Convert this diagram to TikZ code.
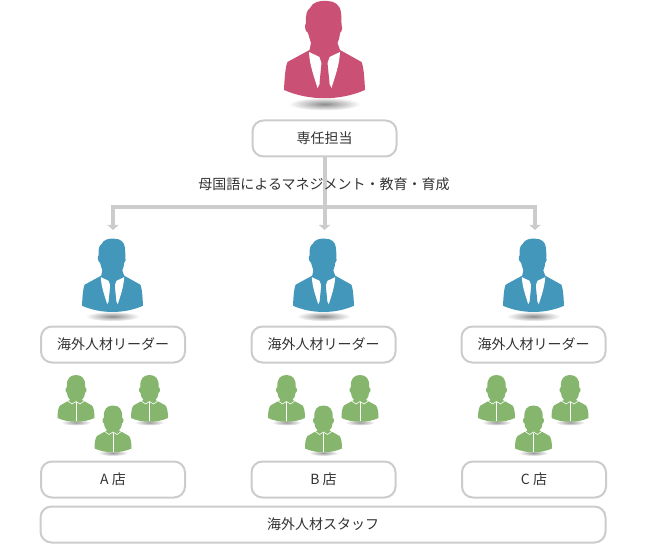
\documentclass[tikz,border=0pt]{standalone}
\usepackage{fontspec}
\setmainfont{Noto Sans CJK JP}
\usetikzlibrary{arrows.meta,calc}
\definecolor{mgrred}{HTML}{CB5076}
\definecolor{leadblue}{HTML}{4297BB}
\definecolor{staffgreen}{HTML}{86B66D}
\definecolor{linegray}{HTML}{CCCCCC}
\definecolor{textgray}{HTML}{333333}

\begin{document}
\begin{tikzpicture}[
    x=1pt, y=-1pt,
    label/.style={font=\fontsize{14}{16}\selectfont, text=textgray},
    bigbox/.style={draw=linegray, line width=2pt, rounded corners=11pt, fill=white,
        minimum height=36pt, inner sep=0pt, label},
    mgrbox/.style={bigbox, minimum width=144pt},
    wide/.style={bigbox, minimum width=565pt},
    link/.style={draw=linegray, line width=4pt},
    drop/.style={link, -{Triangle[length=5pt, width=11pt]}},
    pics/suitman/.style={code={
        % shadow, body with head, shirt, tie
        \shade[inner color=black!45, outer color=white] (0,104) ellipse [x radius=36, y radius=6.5];
        \fill[#1] (-15,50) -- (-13.5,43) .. controls (-15,38) and (-16,35) .. (-16.5,33)
            .. controls (-20,31) and (-20,25) .. (-18.5,23) .. controls (-19,16) and (-18,10) .. (-14.5,8)
            .. controls (-12,2) and (-4,0) .. (3,1) .. controls (10,1) and (16,5) .. (16.5,13)
            .. controls (17,17) and (17,21) .. (17,25) .. controls (18.5,28) and (17,32) .. (15.5,33)
            .. controls (15,38) and (14,41) .. (13,43) -- (15.5,50)
            -- (37,62) .. controls (39,66) and (40,78) .. (40.5,90)
            .. controls (15,101) and (-15,101) .. (-40.5,90)
            .. controls (-40,78) and (-39,66) .. (-37,62) -- cycle;
        \fill[white] (-15.5,52) -- (-5,57) -- (5,57) -- (15.5,52) .. controls (15,65) and (10,78) .. (7,88)
            -- (2,78) -- (-2,78) -- (-7,88) .. controls (-10,78) and (-15,65) .. (-15.5,52) -- cycle;
        \fill[#1] (-5.3,56) -- (5.3,56) -- (3,63) -- (5,83) -- (0,93) -- (-5,83) -- (-3,63) -- cycle;
    }},
    pics/staffman/.style={code={
        \shade[inner color=black!40, outer color=white] (0,47.5) ellipse [x radius=15, y radius=3];
        \fill[staffgreen] (-6,25) .. controls (-8,23) and (-9,20) .. (-9,18)
            .. controls (-11,17) and (-11,13) .. (-9,12) .. controls (-10,4) and (-6,0) .. (0,0)
            .. controls (6,0) and (10,4) .. (9,12) .. controls (11,13) and (11,17) .. (9,18)
            .. controls (9,20) and (8,23) .. (6,25) -- (8,26) -- (16,30.5)
            .. controls (18,33) and (18.5,38) .. (18.5,43)
            .. controls (8,48) and (-8,48) .. (-18.5,43)
            .. controls (-18.5,38) and (-18,33) .. (-16,30.5) -- (-8,26) -- cycle;
        \draw[white, line width=0.6pt] (-9,25.5) -- (-4,29) -- (0,26.5) -- (4,29) -- (9,25.5);
        \draw[white, line width=0.6pt] (0,27) -- (0,46);
    }},
]
\useasboundingbox (0,0) rectangle (645,545);

% Connectors
\coordinate (busL) at (113,207.5);
\coordinate (busM) at (324.5,207.5);
\coordinate (busR) at (535,207.5);
\coordinate (dropL) at (113,230);
\coordinate (dropM) at (324.5,230);
\coordinate (dropR) at (535,230);

% Manager
\pic (mgr) at (324.5,0) {suitman=mgrred};
\node[mgrbox] (mgrlabel) at (324.5,138.5) {専任担当};

\draw[link] (mgrlabel) -- (busM);
\draw[link, line cap=rect] (busL) -- (busR);
\draw[drop] (busL) -- (dropL);
\draw[drop] (busM) -- (dropM);
\draw[drop] (busR) -- (dropR);

\node[label] (mgmt) at (324,184) {母国語によるマネジメント・教育・育成};

% Leaders
\pic[scale=0.753] (leadA) at (112.5,238) {suitman=leadblue};
\pic[scale=0.753] (leadB) at (323.5,238) {suitman=leadblue};
\pic[scale=0.753] (leadC) at (533.5,238) {suitman=leadblue};
\node[mgrbox] (leadboxA) at (113,344.5) {海外人材リーダー};
\node[mgrbox] (leadboxB) at (323.5,344.5) {海外人材リーダー};
\node[mgrbox] (leadboxC) at (533.5,344.5) {海外人材リーダー};

% Staff
\foreach \sx/\shop in {113/A, 323.5/B, 533.5/C} {
    \pic (staff\shop a) at (\sx-37,375) {staffman};
    \pic (staff\shop b) at (\sx+36.5,375) {staffman};
    \pic (staff\shop c) at (\sx,405.5) {staffman};
}
\node[mgrbox] (shopA) at (113,479.5) {A 店};
\node[mgrbox] (shopB) at (323.5,479.5) {B 店};
\node[mgrbox] (shopC) at (534,479.5) {C 店};
\node[wide] (allstaff) at (323,524.5) {海外人材スタッフ};

\end{tikzpicture}
\end{document}
